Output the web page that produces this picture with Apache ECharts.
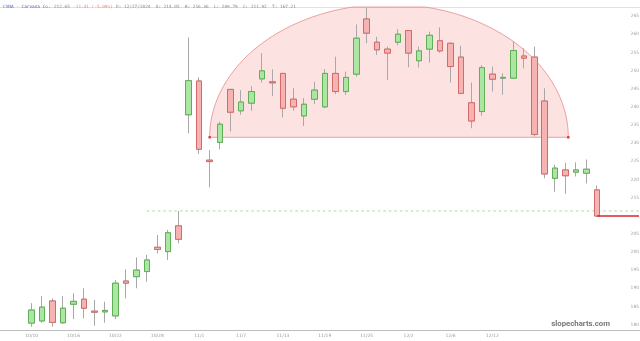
<!DOCTYPE html>
<html><head><meta charset="utf-8">
<script src="https://cdn.jsdelivr.net/npm/echarts@6/dist/echarts.min.js"></script>
<style>html,body{margin:0;padding:0;background:#fff}#c{width:640px;height:341px}</style>
</head><body><div id="c"></div>
<script>
// ---- data ----
const dates = ['10/10','10/11','10/14','10/15','10/16','10/17','10/18','10/21','10/22','10/23','10/24','10/25','10/28','10/29','10/30','10/31',
'11/1','11/4','11/5','11/6','11/7','11/8','11/11','11/12','11/13','11/14','11/15','11/18','11/19','11/20','11/21','11/22','11/25','11/26','11/27','11/29',
'12/2','12/3','12/4','12/5','12/6','12/9','12/10','12/11','12/12','12/13','12/16','12/17','12/18','12/19','12/20','12/23','12/24','12/26','12/27'];
const opens  = [180.4,181.0,186.5,180.5,185.6,187.0,183.7,183.5,182.4,192.0,193.2,194.6,201.3,200.1,207.2,237.8,247.1,225.3,230.2,244.8,238.9,241.0,247.7,246.9,249.2,242.1,237.5,242.1,240.0,249.2,244.2,249.0,264.2,257.8,255.9,257.8,261.0,252.7,255.9,258.2,257.5,253.7,241.1,238.7,249.0,247.9,247.9,254.0,253.7,241.6,220.3,222.6,222.0,221.7,217.1];
const closes = [184.0,184.8,180.6,184.5,186.4,184.5,183.4,183.9,191.4,191.4,195.0,197.8,200.7,205.3,203.5,247.2,228.3,224.9,235.2,238.5,241.3,244.2,249.9,246.6,239.6,240.0,240.7,244.6,249.2,244.2,248.1,258.9,260.3,255.7,254.8,260.0,254.8,255.4,259.7,255.4,251.1,243.7,236.1,250.8,247.6,248.1,255.5,253.4,232.4,221.5,223.1,221.0,222.6,222.8,209.9];
const lows   = [179.4,180.5,179.4,180.2,181.5,181.7,179.7,180.5,181.5,187.2,190.0,191.8,199.6,197.8,202.4,232.7,227.0,217.8,228.3,233.2,237.8,238.9,246.7,243.0,237.1,238.9,234.7,240.8,239.6,243.5,243.3,248.3,257.5,254.3,247.4,256.9,250.9,250.8,252.2,254.9,246.7,243.6,234.1,237.5,244.2,243.3,247.8,250.6,231.8,220.3,216.6,216.0,220.8,218.9,209.9];
const highs  = [185.9,187.9,187.2,187.9,188.6,190.0,186.8,186.3,192.3,195.2,198.5,199.2,204.7,206.1,211.3,259.1,248.1,228.1,235.9,244.9,244.6,245.7,254.8,250.3,249.3,245.1,242.4,246.9,250.4,253.8,249.7,262.7,267.4,259.3,256.6,261.4,261.1,256.6,260.7,261.9,257.7,256.8,246.7,251.5,251.1,249.2,258.0,256.1,256.6,245.1,224.0,224.6,224.7,225.5,218.3];
const yTickLabels = [180,185,190,195,200,205,215,220,225,230,235,240,245,250,255,260,265];
const xLabelEvery = 4, xLabelLastIdx = 44;
const headerName = 'CVNA - Carvana Co.';
const headerPrice = '212.65';
const headerChange = '-11.41 (-5.09%)';
const headerInfo = 'D: 12/27/2024  O: 214.05  H: 216.36  L: 209.79  C: 211.92  T: 167.21';
// annotations (in candle index / price units)
const domeStartIdx = 17, domeEndIdx = 51.25, domeBase = 231.6, domeTop = 268.25;
const breakoutIdx = 14, dashStartIdx = 11;

// ---- build ----
const PAD_L = 3, PAD_R = 4, n = dates.length;
const cats = [];
for (let i = 0; i < PAD_L; i++) cats.push('pl' + i);
dates.forEach(d => cats.push(d));
for (let i = 0; i < PAD_R; i++) cats.push('pr' + i);
const toCat = i => i + PAD_L;

const wickData = cats.map((c, k) => { const i = k - PAD_L; return (i < 0 || i >= n) ? '-' : [opens[i], closes[i], lows[i], highs[i]]; });
const bodyData = cats.map((c, k) => { const i = k - PAD_L; return (i < 0 || i >= n) ? '-' : [opens[i], closes[i], Math.min(opens[i], closes[i]), Math.max(opens[i], closes[i])]; });
const dashData = cats.map((c, k) => k >= toCat(dashStartIdx) ? highs[breakoutIdx] : '-');
const lastData = cats.map((c, k) => k >= toCat(n - 1) ? closes[n - 1] : '-');

const chart = echarts.init(document.getElementById('c'), null, {renderer: 'canvas'});
chart.setOption({
  animation: false,
  backgroundColor: '#fff',
  grid: {left: -4.97, right: -4.2, top: 7, height: 323, containLabel: false, outerBoundsMode: 'none'},
  xAxis: [{
    type: 'category', data: cats, boundaryGap: true, position: 'bottom',
    axisLine: {lineStyle: {color: '#bdbdbd', width: 1}},
    axisTick: {show: false}, splitLine: {show: false},
    axisLabel: {
      interval: (idx) => idx >= PAD_L && (idx - PAD_L) <= xLabelLastIdx && (idx - PAD_L) % xLabelEvery === 0,
      color: '#9a9a9a', fontSize: 4.5, margin: 3, fontFamily: 'DejaVu Sans'
    }
  }, {
    type: 'category', data: cats, position: 'top',
    axisLine: {lineStyle: {color: '#e2e2e2', width: 1}},
    axisTick: {show: false}, axisLabel: {show: false}
  }],
  yAxis: {
    type: 'value', position: 'right', min: 178.5, max: 267.5, interval: 0.5, scale: true,
    axisLine: {show: false}, axisTick: {show: false}, splitLine: {show: false},
    axisLabel: {
      inside: true, margin: 5, color: '#a0a0a0', fontSize: 4.5, fontFamily: 'DejaVu Sans',
      formatter: v => yTickLabels.indexOf(Math.round(v * 10) / 10) >= 0 ? String(Math.round(v)) : ''
    }
  },
  graphic: [
    {type: 'text', left: 3, top: 1, z: 100, style: {
      text: '{a|' + headerName + '} {b|' + headerPrice + '} {c|' + headerChange + '} {b|' + headerInfo + '}',
      rich: {
        a: {fill: '#5566bb', fontSize: 4.4, fontFamily: 'DejaVu Sans Mono'},
        b: {fill: '#8a8a8a', fontSize: 4.4, fontFamily: 'DejaVu Sans Mono'},
        c: {fill: '#ee8888', fontSize: 4.4, fontFamily: 'DejaVu Sans Mono'}
      }
    }},
    {type: 'text', right: 30, top: 320, z: 100, style: {
      text: 'slopecharts.com', fill: '#777', fontSize: 7.8, fontWeight: 'bold', fontFamily: 'Roboto'
    }}
  ],
  series: [
    {
      type: 'custom', z: 1, silent: true,
      data: [[toCat(domeStartIdx), domeBase]],
      renderItem: (params, api) => {
        const cs = params.coordSys;
        const bw = api.size([1, 0])[0];
        const s0 = Math.floor(domeStartIdx), e0 = Math.floor(domeEndIdx);
        const x0 = api.coord([toCat(s0), domeBase])[0] + (domeStartIdx - s0) * bw;
        const x1 = api.coord([toCat(e0), domeBase])[0] + (domeEndIdx - e0) * bw;
        const yb = api.coord([toCat(s0), domeBase])[1];
        const yt = api.coord([toCat(s0), domeTop])[1];
        const cx = (x0 + x1) / 2, a = (x1 - x0) / 2, b = yb - yt;
        const pts = [];
        for (let k = 0; k <= 160; k++) {
          const t = Math.PI * k / 160;
          pts.push([cx - a * Math.cos(t), Math.max(cs.y, yb - b * Math.sin(t))]);
        }
        return {type: 'group', children: [
          {type: 'polygon', shape: {points: pts}, style: {fill: 'rgba(240,60,60,0.15)', stroke: '#e58a8a', lineWidth: 0.8}},
          {type: 'rect', shape: {x: x0 - 1.2, y: yb - 1.2, width: 2.4, height: 2.4}, style: {fill: '#d33'}},
          {type: 'rect', shape: {x: x1 - 1.2, y: yb - 1.2, width: 2.4, height: 2.4}, style: {fill: '#d33'}}
        ]};
      }
    },
    {
      type: 'line', data: dashData, symbol: 'none', z: 2,
      lineStyle: {color: '#a8d8a0', width: 1, type: [2.5, 3]}
    },
    {
      type: 'candlestick', data: wickData, barWidth: 6, z: 3,
      itemStyle: {color: '#a8a8a8', color0: '#a8a8a8', borderColor: '#a8a8a8', borderColor0: '#a8a8a8', borderWidth: 1}
    },
    {
      type: 'candlestick', data: bodyData, barWidth: 6, z: 4,
      itemStyle: {color: '#abe6a2', color0: '#f7b2b2', borderColor: '#5fae58', borderColor0: '#d46a6a', borderWidth: 1}
    },
    {
      type: 'line', data: lastData, symbol: 'none', z: 5,
      lineStyle: {color: '#d8282a', width: 1.5}
    }
  ]
});
</script></body></html>
